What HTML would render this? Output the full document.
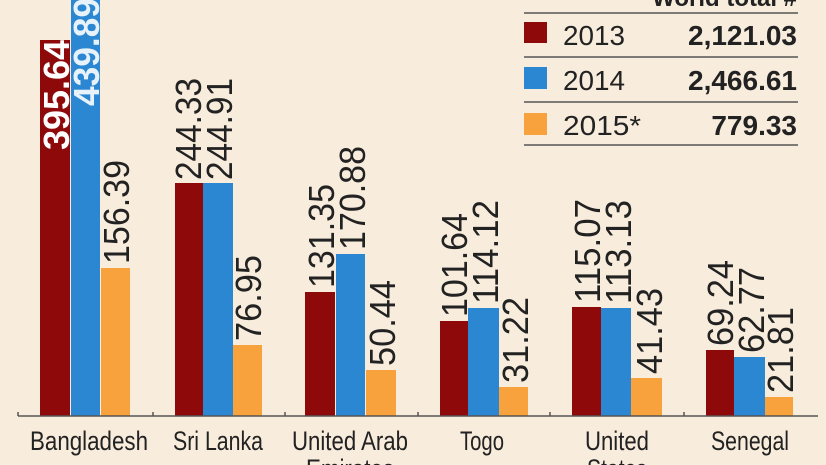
<!DOCTYPE html>
<html><head><meta charset="utf-8"><style>
html,body{margin:0;padding:0;background:#f8ecdc;}
svg{display:block}
text{font-family:"Liberation Sans Narrow","Liberation Sans",sans-serif;}
</style></head><body>
<svg width="826" height="465" viewBox="0 0 826 465" xmlns="http://www.w3.org/2000/svg">
<rect width="826" height="465" fill="#f8ecdc"/>
<!-- legend -->
<text x="797" y="6" text-anchor="end" font-size="24" font-weight="bold" fill="#222">World total #</text>
<line x1="524" y1="13" x2="798" y2="13" stroke="#555" stroke-width="1.5"/>
<line x1="524" y1="57" x2="798" y2="57" stroke="#555" stroke-width="1.5"/>
<line x1="524" y1="102" x2="798" y2="102" stroke="#555" stroke-width="1.5"/>
<line x1="524" y1="145" x2="798" y2="145" stroke="#555" stroke-width="1.5"/>
<rect x="524" y="22" width="23" height="21" fill="#8e0a0a"/>
<rect x="524" y="67" width="23" height="22" fill="#2b87d1"/>
<rect x="524" y="113" width="23" height="22" fill="#f7a23c"/>
<g font-size="28" fill="#222">
<text x="563" y="45" textLength="62" lengthAdjust="spacingAndGlyphs">2013</text>
<text x="563" y="90" textLength="62" lengthAdjust="spacingAndGlyphs">2014</text>
<text x="563" y="135" textLength="78" lengthAdjust="spacingAndGlyphs">2015*</text>
<text x="797" y="45" text-anchor="end" font-weight="bold">2,121.03</text>
<text x="797" y="90" text-anchor="end" font-weight="bold">2,466.61</text>
<text x="797" y="135" text-anchor="end" font-weight="bold">779.33</text>
</g>
<!-- bars -->
<g fill="#8e0a0a">
<rect x="40" y="40" width="30" height="376"/>
<rect x="175" y="183" width="28" height="233"/>
<rect x="305" y="292" width="30" height="124"/>
<rect x="440" y="321" width="28" height="95"/>
<rect x="572" y="307" width="29" height="109"/>
<rect x="706" y="350" width="28" height="66"/>
</g>
<g fill="#2b87d1">
<rect x="71" y="-2" width="29" height="418"/>
<rect x="203" y="183" width="30" height="233"/>
<rect x="336" y="254" width="29" height="162"/>
<rect x="468" y="308" width="31" height="108"/>
<rect x="601" y="308" width="30" height="108"/>
<rect x="734" y="357" width="31" height="59"/>
</g>
<g fill="#f7a23c">
<rect x="101" y="268" width="29" height="148"/>
<rect x="233" y="345" width="29" height="71"/>
<rect x="366" y="370" width="30" height="46"/>
<rect x="499" y="387" width="29" height="29"/>
<rect x="631" y="378" width="31" height="38"/>
<rect x="765" y="397" width="28" height="19"/>
</g>
<!-- axis -->
<line x1="18" y1="416" x2="818" y2="416" stroke="#555" stroke-width="1.5"/>
<g stroke="#555" stroke-width="1.5">
<line x1="18" y1="412" x2="18" y2="416"/><line x1="153" y1="412" x2="153" y2="416"/>
<line x1="285" y1="412" x2="285" y2="416"/><line x1="418" y1="412" x2="418" y2="416"/>
<line x1="550" y1="412" x2="550" y2="416"/><line x1="684" y1="412" x2="684" y2="416"/>
</g>
<!-- value labels -->
<g font-size="36" fill="#222" lengthAdjust="spacingAndGlyphs">
<text transform="translate(69,150) rotate(-90)" textLength="110" lengthAdjust="spacingAndGlyphs" fill="#fff" font-weight="bold">395.64</text>
<text transform="translate(99,106) rotate(-90)" textLength="108" lengthAdjust="spacingAndGlyphs" fill="#e8f2fb" font-weight="bold">439.89</text>
<text transform="translate(129,264) rotate(-90)" textLength="104" lengthAdjust="spacingAndGlyphs">156.39</text>
<text transform="translate(201,180) rotate(-90)" textLength="102" lengthAdjust="spacingAndGlyphs">244.33</text>
<text transform="translate(232,180) rotate(-90)" textLength="102" lengthAdjust="spacingAndGlyphs">244.91</text>
<text transform="translate(261,341) rotate(-90)" textLength="86" lengthAdjust="spacingAndGlyphs">76.95</text>
<text transform="translate(334,288) rotate(-90)" textLength="104" lengthAdjust="spacingAndGlyphs">131.35</text>
<text transform="translate(365,250) rotate(-90)" textLength="104" lengthAdjust="spacingAndGlyphs">170.88</text>
<text transform="translate(395,366) rotate(-90)" textLength="86" lengthAdjust="spacingAndGlyphs">50.44</text>
<text transform="translate(467,317) rotate(-90)" textLength="104" lengthAdjust="spacingAndGlyphs">101.64</text>
<text transform="translate(498,304) rotate(-90)" textLength="104" lengthAdjust="spacingAndGlyphs">114.12</text>
<text transform="translate(528,383) rotate(-90)" textLength="86" lengthAdjust="spacingAndGlyphs">31.22</text>
<text transform="translate(600,303) rotate(-90)" textLength="104" lengthAdjust="spacingAndGlyphs">115.07</text>
<text transform="translate(631,304) rotate(-90)" textLength="104" lengthAdjust="spacingAndGlyphs">113.13</text>
<text transform="translate(662,374) rotate(-90)" textLength="86" lengthAdjust="spacingAndGlyphs">41.43</text>
<text transform="translate(733,346) rotate(-90)" textLength="86" lengthAdjust="spacingAndGlyphs">69.24</text>
<text transform="translate(764,353) rotate(-90)" textLength="86" lengthAdjust="spacingAndGlyphs">62.77</text>
<text transform="translate(793,393) rotate(-90)" textLength="86" lengthAdjust="spacingAndGlyphs">21.81</text>
</g>
<!-- category labels -->
<g font-size="27" fill="#222" text-anchor="middle">
<text x="89" y="450" textLength="118" lengthAdjust="spacingAndGlyphs">Bangladesh</text>
<text x="218" y="450" textLength="90" lengthAdjust="spacingAndGlyphs">Sri Lanka</text>
<text x="350" y="450" textLength="116" lengthAdjust="spacingAndGlyphs">United Arab</text>
<text x="350" y="478" textLength="88" lengthAdjust="spacingAndGlyphs">Emirates</text>
<text x="482" y="450" textLength="44" lengthAdjust="spacingAndGlyphs">Togo</text>
<text x="617" y="450" textLength="64" lengthAdjust="spacingAndGlyphs">United</text>
<text x="617" y="478" textLength="60" lengthAdjust="spacingAndGlyphs">States</text>
<text x="750" y="450" textLength="78" lengthAdjust="spacingAndGlyphs">Senegal</text>
</g>
</svg>
</body></html>
